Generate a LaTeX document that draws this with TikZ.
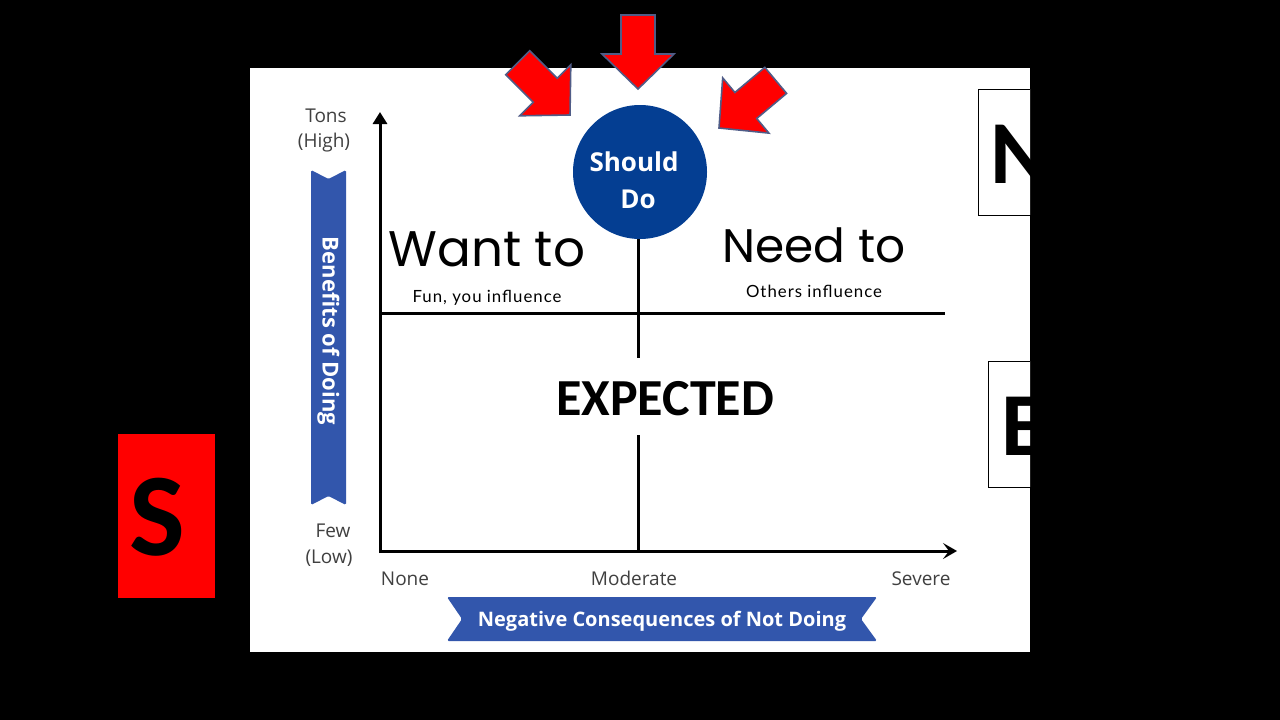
\documentclass[tikz,border=0pt]{standalone}
\usepackage{fontspec}
\usetikzlibrary{arrows.meta}
\newfontfamily\calib{Carlito}
\newfontfamily\osans{Open Sans}
\newfontfamily\popp{Poppins}
\newfontfamily\subfont[LetterSpace=6]{Lato}
\definecolor{circblue}{RGB}{4,62,146}
\definecolor{ribblue}{RGB}{50,86,172}
\definecolor{arrred}{RGB}{255,0,0}
\definecolor{arredge}{RGB}{80,92,135}
\definecolor{labgray}{RGB}{64,64,64}
\tikzset{
  axisline/.style={line width=3pt,black},
  gridline/.style={line width=3pt,black},
  blockarrow/.style={fill=arrred,draw=arredge,line width=1.6pt,line join=miter},
  ribbon/.style={fill=ribblue,rounded corners=1.5pt},
  ribtext/.style={text=white,font=\osans\bfseries\fontsize{20}{24}\selectfont,inner sep=0pt},
  axlabel/.style={text=labgray,font=\osans\fontsize{19}{22}\selectfont,inner sep=0pt},
  bigtitle/.style={font=\popp\fontsize{50}{58}\selectfont,inner sep=0pt,anchor=base},
  subtitle/.style={font=\subfont\fontsize{16.8}{20}\selectfont,inner sep=0pt,anchor=base},
  letterbox/.style={draw=black,line width=1pt,fill=white},
  bigletter/.style={font=\calib\bfseries\fontsize{90}{96}\selectfont,inner sep=0pt,anchor=base west},
}
\begin{document}
\begin{tikzpicture}[x=1pt,y=-1pt]
\useasboundingbox[fill=black] (0,0) rectangle (1280,720);
% white panel
\fill[white] (250,68) rectangle (1030,652);
% red S box
\fill[arrred] (118,434) rectangle (215,598);
\node[font=\calib\bfseries\fontsize{118}{124}\selectfont,inner sep=0pt,anchor=base] (sletter) at (157,555) {S};
% right clipped boxes
\begin{scope}
\clip (950,60) rectangle (1030,520);
\draw[letterbox] (978,89) rectangle (1060,215);
\node[bigletter] (nletter) at (990,183) {N};
\draw[letterbox] (988,361) rectangle (1060,487);
\node[bigletter] (eletter) at (1001,455) {E};
\end{scope}
% axes
\coordinate (origin) at (380,551);
\coordinate (ytop) at (380,112);
\coordinate (xend) at (957,551);
\coordinate (ybot) at (380,553);
\draw[axisline,-{Triangle[width=14pt,length=12pt]}] (ybot) -- (ytop);
\draw[axisline,-{Stealth[width=16pt,length=14pt,inset=6pt]}] (origin) -- (xend);
% grid lines
\coordinate (hl) at (380,313);
\coordinate (hr) at (945,313);
\draw[gridline] (hl) -- (hr);
\node[circle,fill=circblue,minimum size=134pt,inner sep=0pt] (should) at (640,172) {};
\coordinate (vmid1) at (638,358);
\coordinate (vmid2) at (638,435);
\coordinate (vbot) at (638,551);
\draw[gridline] (should.south -| vmid1) -- (vmid1);
\draw[gridline] (vmid2) -- (vbot);
\node[text=white,font=\osans\bfseries\fontsize{26}{30}\selectfont,inner sep=0pt,anchor=base] (shouldt) at (634,171) {Should};
\node[text=white,font=\osans\bfseries\fontsize{26}{30}\selectfont,inner sep=0pt,anchor=base] (dot) at (638,208) {Do};
% quadrant texts
\node[bigtitle] (want) at (487,266) {Want to};
\node[bigtitle,font=\popp\fontsize{47}{55}\selectfont] (need) at (814,262) {Need to};
\node[subtitle] (fun) at (487,302) {Fun, you influence};
\node[subtitle] (others) at (814,297) {Others influence};
\node[font=\calib\bfseries\fontsize{52}{60}\selectfont,inner sep=0pt,anchor=base] (expected) at (665,415) {EXPECTED};
% axis labels
\node[axlabel,anchor=base] (tons) at (326,122) {Tons};
\node[axlabel,anchor=base] (high) at (324,147) {(High)};
\node[axlabel,anchor=base] (few) at (333,537) {Few};
\node[axlabel,anchor=base] (low) at (329,563) {(Low)};
\node[axlabel,anchor=base] (none) at (405,585) {None};
\node[axlabel,anchor=base] (moderate) at (634,585) {Moderate};
\node[axlabel,anchor=base] (severe) at (921,585) {Severe};
% ribbons
\fill[ribbon] (311,170) -- (328.5,179) -- (346,170) -- (346,505) -- (328.5,496) -- (311,505) -- cycle;
\node[ribtext,rotate=-90,font=\osans\bfseries\fontsize{22}{26}\selectfont] (benefits) at (328.5,331) {Benefits of Doing};
\fill[ribbon] (447,597) -- (877,597) -- (861,619) -- (877,641) -- (447,641) -- (462,619) -- cycle;
\node[ribtext] (negative) at (662,621) {Negative Consequences of Not Doing};
% red block arrows
\filldraw[blockarrow] (655,15) -- (655,54) -- (674,54) -- (638,89) -- (602,54) -- (621,54) -- (621,15) -- cycle;
\filldraw[blockarrow] (505.7,74.7) -- (533.3,102.3) -- (519.8,115.8) -- (570,115) -- (570.8,64.8) -- (557.3,78.3) -- (529.7,50.7) -- cycle;
\filldraw[blockarrow] (786.6,93.4) -- (756.7,118.5) -- (768.9,133.1) -- (719,128) -- (722.7,77.9) -- (734.9,92.5) -- (764.8,67.4) -- cycle;
\end{tikzpicture}
\end{document}
